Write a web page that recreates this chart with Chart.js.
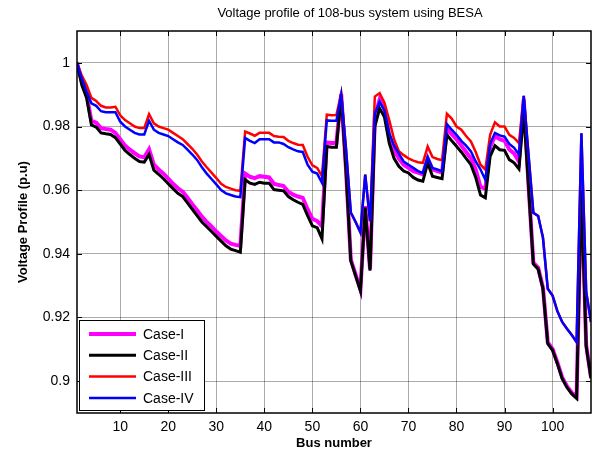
<!DOCTYPE html>
<html>
<head>
<meta charset="utf-8">
<script src="https://cdn.jsdelivr.net/npm/chart.js@4.4.1/dist/chart.umd.min.js"></script>
<style>
  body { margin: 0; background: #fff; }
  canvas { display: block; }
</style>
</head>
<body>
<canvas id="voltageChart" width="599" height="454"></canvas>
<script>
const chartTitle = 'Voltage profile of 108-bus system using BESA';
const seriesNames = ['Case-I', 'Case-II', 'Case-III', 'Case-IV'];
const seriesColors = ['#ff00ff', '#000000', '#ff0000', '#0000ff'];
const seriesWidths = [4, 3, 2.5, 2.5];

const xTicks = [10, 20, 30, 40, 50, 60, 70, 80, 90, 100];
const yTicks = [0.9, 0.92, 0.94, 0.96, 0.98, 1];

// bus numbers 1..108
const buses = Array.from({ length: 108 }, (_, i) => i + 1);

const caseI = [
  1.000, 0.994, 0.990, 0.9818, 0.9812, 0.9795, 0.9792, 0.979, 0.978, 0.976,
  0.974, 0.9727, 0.9716, 0.9706, 0.9703, 0.9728, 0.968, 0.9665, 0.9652, 0.9636,
  0.962, 0.9606, 0.9595, 0.9576, 0.9556, 0.9537, 0.9517, 0.950, 0.9486, 0.947,
  0.9456, 0.9442, 0.9432, 0.9428, 0.9425, 0.9652, 0.9642, 0.9638, 0.9644, 0.9642,
  0.964, 0.962, 0.9616, 0.9613, 0.9595, 0.9586, 0.958, 0.9576, 0.954, 0.951,
  0.9503, 0.9487, 0.975, 0.9748, 0.9748, 0.9902, 0.9665, 0.9382, 0.9335, 0.9288,
  0.955, 0.9352, 0.983, 0.9885, 0.9855, 0.977, 0.9725, 0.970, 0.968, 0.967,
  0.966, 0.9655, 0.965, 0.970, 0.9665, 0.966, 0.9655, 0.9793, 0.9776, 0.976,
  0.974, 0.972, 0.970, 0.9665, 0.961, 0.9605, 0.9735, 0.977, 0.976, 0.9755,
  0.9728, 0.9715, 0.969, 0.9885, 0.9615, 0.9372, 0.9356, 0.9294, 0.9122, 0.9101,
  0.9059, 0.9012, 0.8984, 0.8964, 0.895, 0.962, 0.9113, 0.9012
];

const caseII = [
  1.000, 0.993, 0.989, 0.9805, 0.9798, 0.978, 0.9777, 0.9775, 0.9765, 0.9745,
  0.9725, 0.9712, 0.970, 0.969, 0.9688, 0.9712, 0.9663, 0.965, 0.9636, 0.962,
  0.9605, 0.959, 0.958, 0.956, 0.954, 0.952, 0.950, 0.9485, 0.947, 0.9455,
  0.944, 0.9425, 0.9415, 0.941, 0.9405, 0.9633, 0.9622, 0.9618, 0.9625, 0.9622,
  0.9622, 0.9602, 0.960, 0.9598, 0.958, 0.957, 0.9562, 0.9555, 0.952, 0.9488,
  0.9482, 0.9447, 0.9737, 0.9735, 0.9735, 0.990, 0.966, 0.9378, 0.9331, 0.9284,
  0.9545, 0.9347, 0.980, 0.9857, 0.983, 0.9748, 0.970, 0.9675, 0.966, 0.9654,
  0.964, 0.9632, 0.9628, 0.9686, 0.9644, 0.964, 0.9636, 0.9774, 0.9755, 0.9738,
  0.972, 0.970, 0.968, 0.964, 0.9585, 0.9576, 0.9706, 0.974, 0.9727, 0.9725,
  0.9696, 0.9686, 0.9667, 0.9845, 0.961, 0.9368, 0.9352, 0.929, 0.9118, 0.9097,
  0.9055, 0.9008, 0.898, 0.896, 0.8946, 0.960, 0.9109, 0.9008
];

const caseIII = [
  1.000, 0.996, 0.993, 0.989, 0.988, 0.9865, 0.986, 0.986, 0.9862, 0.9835,
  0.982, 0.981, 0.980, 0.9795, 0.9795, 0.9839, 0.981, 0.980, 0.9795, 0.979,
  0.978, 0.977, 0.976, 0.9745, 0.973, 0.9712, 0.969, 0.9672, 0.9655, 0.9638,
  0.962, 0.961, 0.9605, 0.960, 0.9598, 0.9784, 0.9778, 0.9771, 0.978, 0.978,
  0.978, 0.977, 0.9768, 0.9767, 0.9755, 0.9748, 0.9743, 0.9742, 0.9705, 0.9678,
  0.967, 0.9644, 0.9837, 0.9835, 0.9836, 0.9904, 0.973, 0.953, 0.950, 0.9467,
  0.9649, 0.9503, 0.9894, 0.9905, 0.9875, 0.982, 0.976, 0.9722, 0.971, 0.970,
  0.9693, 0.9688, 0.9686, 0.9737, 0.9704, 0.9698, 0.9694, 0.984, 0.9825, 0.980,
  0.979, 0.977, 0.9753, 0.972, 0.968, 0.9665, 0.9774, 0.9813, 0.980, 0.980,
  0.9774, 0.9764, 0.9748, 0.9896, 0.971, 0.9529, 0.9519, 0.9451, 0.929, 0.9269,
  0.922, 0.9186, 0.9165, 0.9145, 0.9123, 0.9779, 0.928, 0.9186
];

const caseIV = [
  1.000, 0.995, 0.991, 0.9873, 0.9865, 0.9848, 0.9845, 0.9845, 0.9845, 0.9815,
  0.980, 0.979, 0.978, 0.9775, 0.9775, 0.9818, 0.979, 0.978, 0.9775, 0.977,
  0.976, 0.975, 0.9742, 0.9727, 0.9712, 0.9695, 0.9672, 0.9652, 0.9635, 0.9618,
  0.960, 0.959, 0.9585, 0.958, 0.9578, 0.9764, 0.9755, 0.9748, 0.976, 0.976,
  0.976, 0.975, 0.975, 0.9745, 0.9735, 0.9728, 0.9722, 0.972, 0.968, 0.9658,
  0.9652, 0.9623, 0.9819, 0.9818, 0.9818, 0.990, 0.973, 0.953, 0.950, 0.9467,
  0.9649, 0.9503, 0.984, 0.9878, 0.985, 0.978, 0.974, 0.9715, 0.969, 0.968,
  0.967, 0.966, 0.9654, 0.9704, 0.967, 0.9665, 0.966, 0.9808, 0.979, 0.9774,
  0.9755, 0.974, 0.9722, 0.969, 0.9665, 0.9633, 0.9745, 0.978, 0.9772, 0.9768,
  0.9745, 0.9733, 0.9712, 0.9896, 0.971, 0.9529, 0.9519, 0.9451, 0.929, 0.9269,
  0.922, 0.9186, 0.9165, 0.9145, 0.9123, 0.9779, 0.928, 0.9186
];

const allSeries = [caseI, caseII, caseIII, caseIV];
const FONT = '"Liberation Sans", Arial, Helvetica, sans-serif';

// MATLAB style frame, inner ticks, title and legend box
const matlabFrame = {
  id: 'matlabFrame',
  afterDraw(chart) {
    const { ctx, chartArea: a, scales } = chart;
    ctx.save();
    ctx.strokeStyle = '#000';
    ctx.lineWidth = 1;
    ctx.beginPath();
    xTicks.forEach(v => {
      const x = Math.round(scales.x.getPixelForValue(v)) + 0.5;
      ctx.moveTo(x, a.top); ctx.lineTo(x, a.top + 5);
      ctx.moveTo(x, a.bottom); ctx.lineTo(x, a.bottom - 5);
    });
    yTicks.forEach(v => {
      const y = Math.round(scales.y.getPixelForValue(v)) + 0.5;
      ctx.moveTo(a.left, y); ctx.lineTo(a.left + 5, y);
      ctx.moveTo(a.right, y); ctx.lineTo(a.right - 5, y);
    });
    ctx.stroke();
    ctx.lineWidth = 1.5;
    ctx.strokeRect(a.left, a.top, a.right - a.left, a.bottom - a.top);

    // title (sits a little right of the axes centre in the original)
    ctx.fillStyle = '#000';
    ctx.font = '13px ' + FONT;
    ctx.textAlign = 'center';
    ctx.textBaseline = 'middle';
    ctx.fillText(chartTitle, 350, 13);

    // legend
    const lx = a.left + 2, ly = 320.5, lw = 125, lh = 90;
    ctx.fillStyle = '#fff';
    ctx.fillRect(lx, ly, lw, lh);
    ctx.lineWidth = 1;
    ctx.strokeStyle = '#000';
    ctx.strokeRect(lx + 0.5, ly, lw, lh);
    ctx.font = '14px ' + FONT;
    ctx.textAlign = 'left';
    seriesNames.forEach((name, i) => {
      const y = 334 + i * 21.3;
      ctx.strokeStyle = seriesColors[i];
      ctx.lineWidth = seriesWidths[i];
      ctx.beginPath();
      ctx.moveTo(lx + 10, y);
      ctx.lineTo(lx + 57, y);
      ctx.stroke();
      ctx.fillStyle = '#000';
      ctx.fillText(name, lx + 64, y + 1);
    });
    ctx.restore();
  }
};

new Chart(document.getElementById('voltageChart'), {
  type: 'line',
  data: {
    datasets: allSeries.map((vals, i) => ({
      label: seriesNames[i],
      data: buses.map((b, j) => ({ x: b, y: vals[j] })),
      borderColor: seriesColors[i],
      borderWidth: seriesWidths[i],
      pointRadius: 0,
      tension: 0,
      fill: false,
      order: 4 - i
    }))
  },
  options: {
    responsive: false,
    animation: false,
    layout: { padding: { top: 31, right: 8, left: 0, bottom: 0 } },
    plugins: {
      legend: { display: false },
      tooltip: { enabled: false }
    },
    scales: {
      x: {
        type: 'linear',
        min: 1,
        max: 108,
        afterFit: s => { s.height = 41; },
        afterBuildTicks: s => { s.ticks = xTicks.map(v => ({ value: v })); },
        grid: { color: 'rgba(0,0,0,0.33)', drawTicks: false },
        border: { display: false },
        ticks: { color: '#000', padding: 6, font: { family: FONT, size: 14 }, callback: v => String(v) },
        title: {
          display: true, text: 'Bus number', color: '#000',
          font: { family: FONT, size: 13, weight: 'bold' },
          padding: { top: 0, bottom: 3 }
        }
      },
      y: {
        min: 0.89,
        max: 1.01,
        afterFit: s => { s.width = 77; },
        afterBuildTicks: s => { s.ticks = yTicks.map(v => ({ value: v })); },
        grid: { color: 'rgba(0,0,0,0.33)', drawTicks: false },
        border: { display: false },
        ticks: { color: '#000', padding: 7, font: { family: FONT, size: 14 }, callback: v => String(v) },
        title: {
          display: true, text: 'Voltage Profile (p.u)', color: '#000',
          font: { family: FONT, size: 13, weight: 'bold' },
          padding: { top: 16, bottom: 0 }
        }
      }
    }
  },
  plugins: [matlabFrame]
});
</script>
</body>
</html>
